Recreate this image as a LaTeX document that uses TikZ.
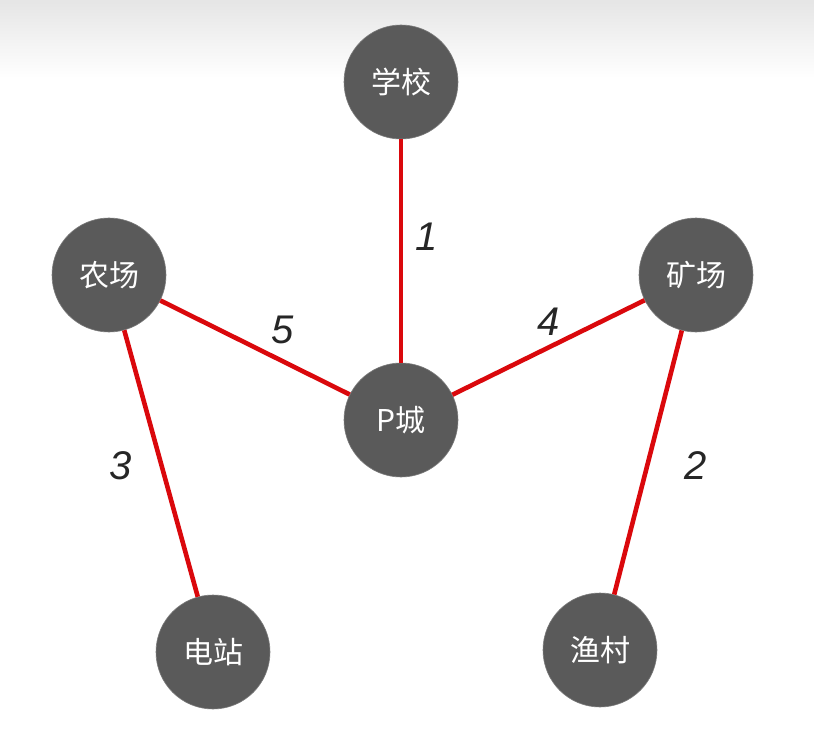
\documentclass[tikz,border=0pt]{standalone}
\usepackage{fontspec}
\newfontfamily\cjk{Noto Sans CJK SC}
\newfontfamily\numfont{Liberation Sans}
\usetikzlibrary{positioning}
\definecolor{nodegray}{RGB}{90,90,90}
\definecolor{edgered}{RGB}{218,8,12}
\tikzset{
  city/.style={circle, fill=nodegray, draw=nodegray!80!white, line width=0.6pt, minimum size=114pt, inner sep=0pt, text=white, font=\cjk\fontsize{30}{30}\selectfont},
  road/.style={draw=edgered, line width=4.6pt},
  weight/.style={font=\numfont\itshape\fontsize{40}{40}\selectfont, text=black!85}
}
\begin{document}
\begin{tikzpicture}[x=1pt,y=-1pt]
\useasboundingbox (0,0) rectangle (814,730);
\shade[top color=black!10, bottom color=white] (0,0) rectangle (814,78);
\node[city] (school) at (401,82) {学校};
\node[city] (farm) at (109,275) {农场};
\node[city] (mine) at (696,275) {矿场};
\node[city] (p) at (401,420) {P城};
\node[city] (power) at (213,652) {电站};
\node[city] (fish) at (600,650) {渔村};
\draw[road] (school) -- (p);
\draw[road] (farm) -- (p);
\draw[road] (mine) -- (p);
\draw[road] (farm) -- (power);
\draw[road] (mine) -- (fish);
\node[weight] (w1) at (427,237) {1};
\node[weight] (w5) at (283,330) {5};
\node[weight] (w4) at (549,322) {4};
\node[weight] (w3) at (121,466) {3};
\node[weight] (w2) at (696,466) {2};
\end{tikzpicture}
\end{document}
